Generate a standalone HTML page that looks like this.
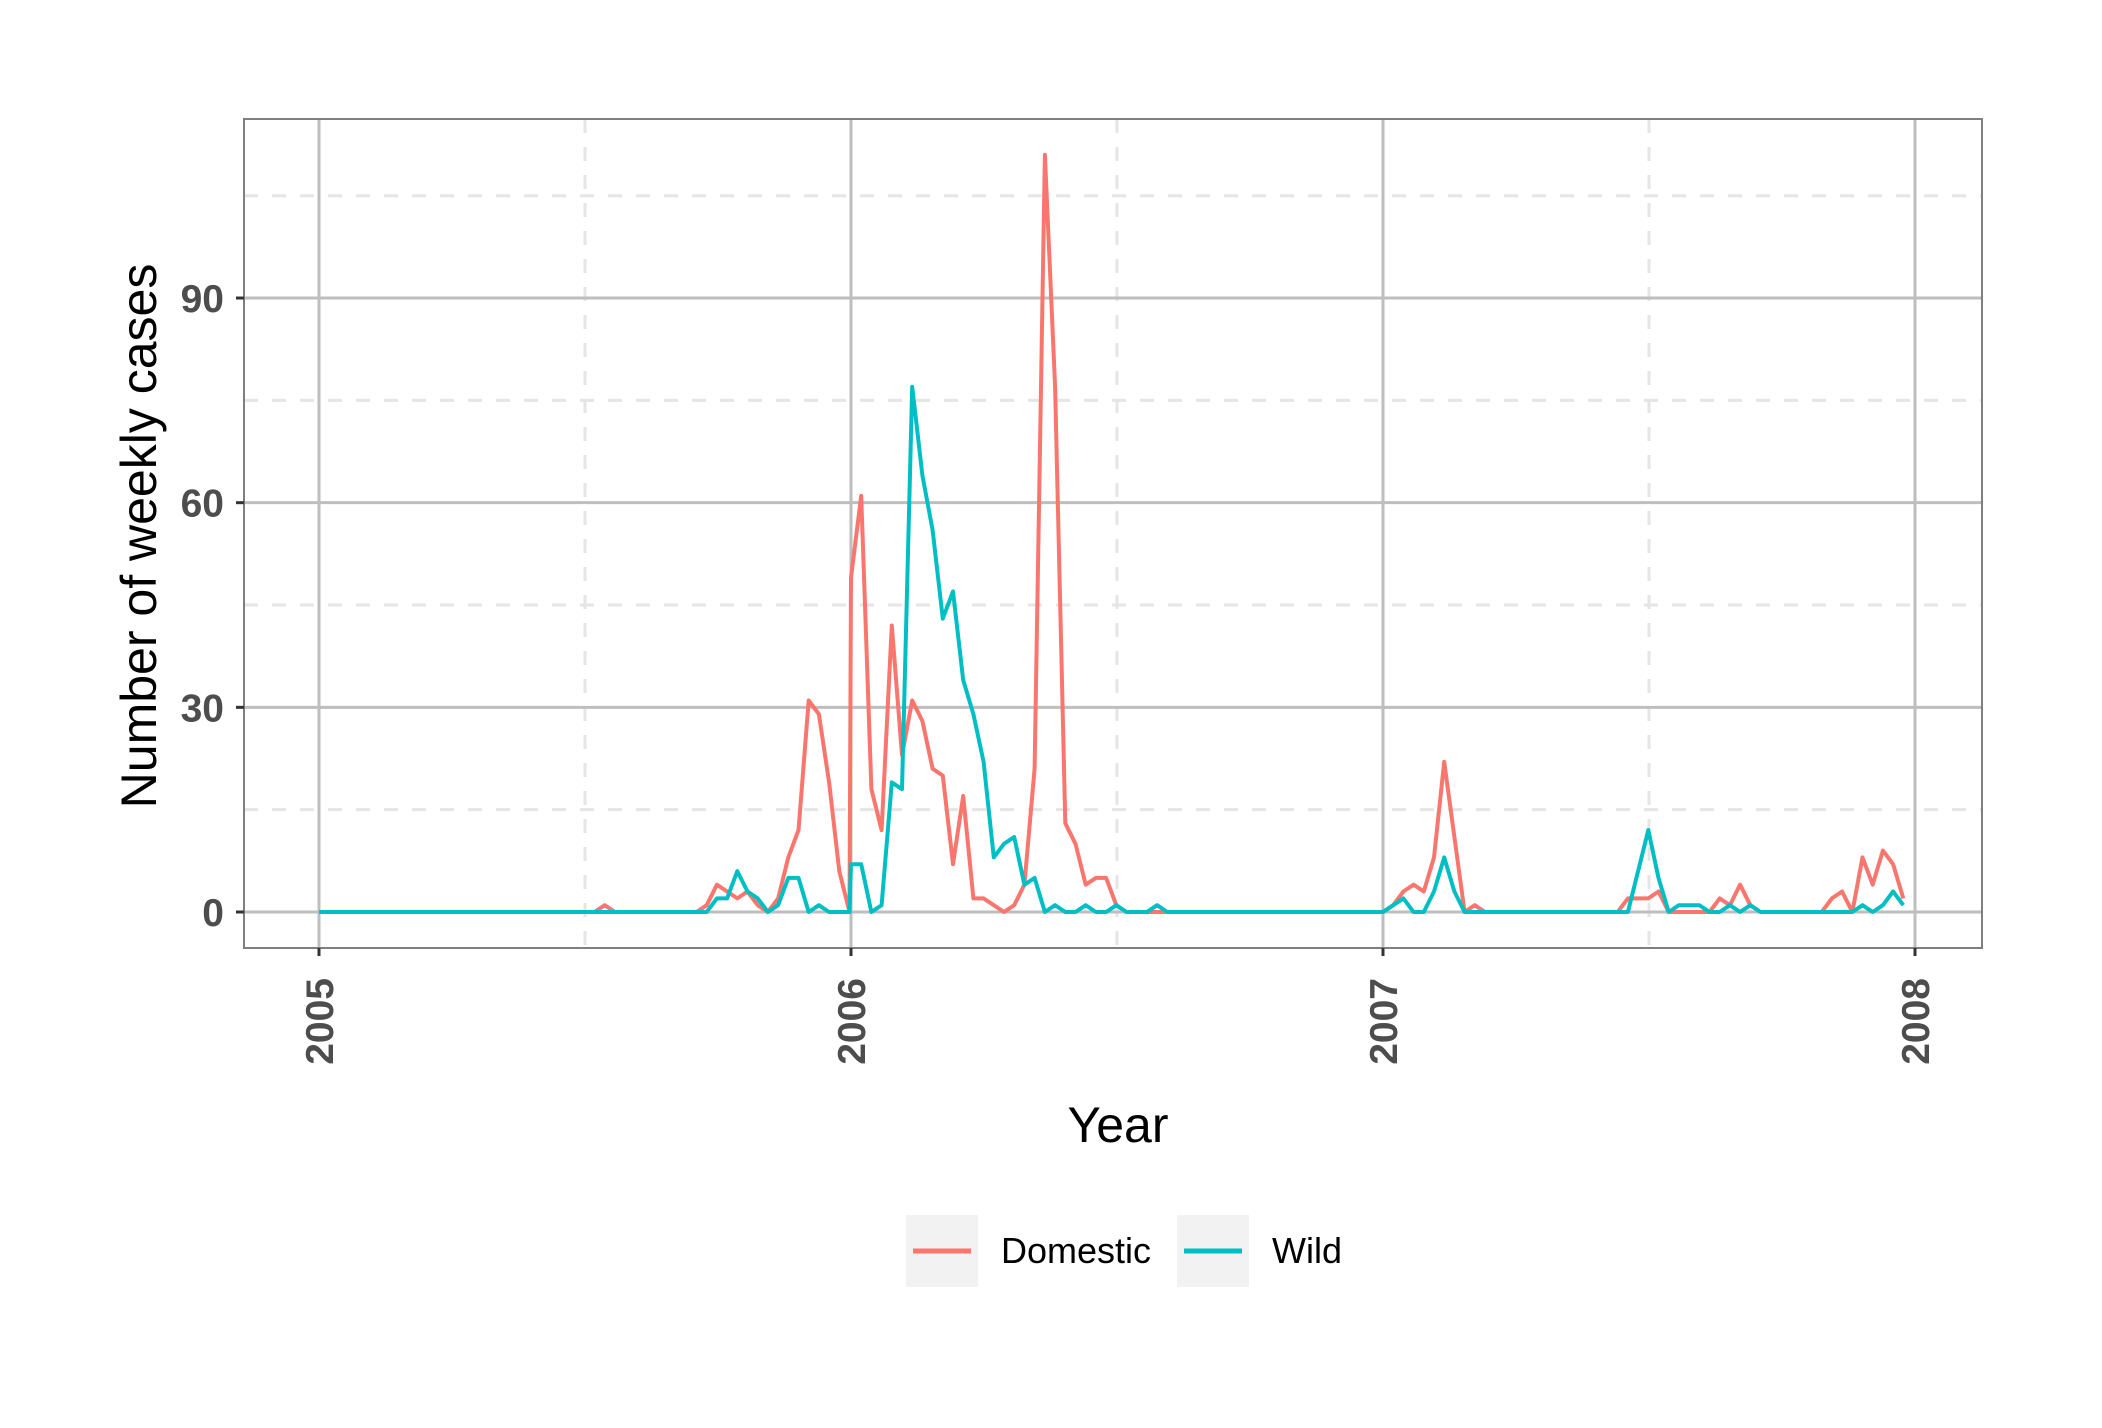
<!DOCTYPE html>
<html><head><meta charset="utf-8"><style>
html,body{margin:0;padding:0;background:#fff;}
svg{display:block;font-family:"Liberation Sans",sans-serif;}
</style></head><body>
<svg id="chart" width="2102" height="1428" viewBox="0 0 2102 1428">
<rect x="0" y="0" width="2102" height="1428" fill="#fff"/>
<g id="grid"></g>
<g id="series"></g>
<rect x="244" y="119" width="1738" height="829" fill="none" stroke="#7f7f7f" stroke-width="2"/>
<g id="axes"></g>
<text x="0" y="0" transform="translate(156,536) rotate(-90)" text-anchor="middle" font-size="50" fill="#000">Number of weekly cases</text>
<text x="1118" y="1142" text-anchor="middle" font-size="50" fill="#000">Year</text>
<g>
<g>
<rect x="906" y="1215" width="72" height="72" fill="#f2f2f2"/>
<line x1="913" y1="1251" x2="971" y2="1251" stroke="#F8766D" stroke-width="5"/>
<text x="1001" y="1263" font-size="36" fill="#000">Domestic</text>
</g>
<g>
<rect x="1177" y="1215" width="72" height="72" fill="#f2f2f2"/>
<line x1="1184" y1="1251" x2="1242" y2="1251" stroke="#00BFC4" stroke-width="5"/>
<text x="1272" y="1263" font-size="36" fill="#000">Wild</text>
</g>
</g>
</svg>
<script>
const years = [2005, 2006, 2007];
const domestic2005 = [0,0,0,0,0,0,0,0,0,0,0,0,0,0,0,0,0,0,0,0,0,0,0,0,0,0,0,0,1,0,0,0,0,0,0,0,0,0,1,4,3,2,3,1,0,2,8,12,31,29,19,6,0];
const domestic2006 = [49,61,18,12,42,23,31,28,21,20,7,17,2,2,1,0,1,4,21,111,77,13,10,4,5,5,1,0,0,0,0,0,0,0,0,0,0,0,0,0,0,0,0,0,0,0,0,0,0,0,0,0,0];
const domestic2007 = [0,1,3,4,3,8,22,11,0,1,0,0,0,0,0,0,0,0,0,0,0,0,0,0,2,2,2,3,0,0,0,0,0,2,1,4,1,0,0,0,0,0,0,0,2,3,0,8,4,9,7,2];
const wild2005 = [0,0,0,0,0,0,0,0,0,0,0,0,0,0,0,0,0,0,0,0,0,0,0,0,0,0,0,0,0,0,0,0,0,0,0,0,0,0,0,2,2,6,3,2,0,1,5,5,0,1,0,0,0];
const wild2006 = [7,7,0,1,19,18,77,64,56,43,47,34,29,22,8,10,11,4,5,0,1,0,0,1,0,0,1,0,0,0,1,0,0,0,0,0,0,0,0,0,0,0,0,0,0,0,0,0,0,0,0,0,0];
const wild2007 = [0,1,2,0,0,3,8,3,0,0,0,0,0,0,0,0,0,0,0,0,0,0,0,0,0,6,12,5,0,1,1,1,0,0,1,0,1,0,0,0,0,0,0,0,0,0,0,1,0,1,3,1];
const yMajorTicks = [0, 30, 60, 90];
const yMinorTicks = [15, 45, 75, 105];
const xMajorTicks = [2005, 2006, 2007, 2008];
const xMinorTicks = [2005.5, 2006.5, 2007.5];
const xTickLabels = ["2005", "2006", "2007", "2008"];

const NS = "http://www.w3.org/2000/svg";
const PL = 244, PR = 1982, PT = 119, PB = 948;
const X0 = 2005, X1 = 2008, XP0 = 319, XP1 = 1915;
function xs(v){ return XP0 + (v - X0) * (XP1 - XP0) / (X1 - X0); }
function ys(v){ return 912 - v * 6.822; }
function mk(tag, attrs, parent){ const e = document.createElementNS(NS, tag); for (const k in attrs) e.setAttribute(k, attrs[k]); parent.appendChild(e); return e; }

const grid = document.getElementById('grid');
yMinorTicks.forEach(v => {
  const l = mk('line', {x1:PL, x2:PR, y1:ys(v), y2:ys(v), stroke:'#e5e5e5', 'stroke-width':3, 'stroke-dasharray':'14,14'}, grid);
  
  
});
xMinorTicks.forEach(v => {
  const l = mk('line', {x1:xs(v), x2:xs(v), y1:PT, y2:PB, stroke:'#e5e5e5', 'stroke-width':3, 'stroke-dasharray':'14,14'}, grid);
  
  
});
yMajorTicks.forEach(v => {
  const l = mk('line', {x1:PL, x2:PR, y1:ys(v), y2:ys(v), stroke:'#bebebe', 'stroke-width':3}, grid);
  
  
});
xMajorTicks.forEach(v => {
  const l = mk('line', {x1:xs(v), x2:xs(v), y1:PT, y2:PB, stroke:'#bebebe', 'stroke-width':3}, grid);
  
  
});

function pts(arrs){
  const out = [];
  arrs.forEach((a, i) => a.forEach((v, w) => out.push([years[i] + w * 7 / 365, v])));
  return out;
}
const ser = document.getElementById('series');
[[ [domestic2005, domestic2006, domestic2007], '#F8766D', 'domestic-line' ],
 [ [wild2005, wild2006, wild2007], '#00BFC4', 'wild-line' ]].forEach(s => {
  const d = pts(s[0]).map((p, i) => (i ? 'L' : 'M') + xs(p[0]).toFixed(1) + ',' + ys(p[1]).toFixed(1)).join('');
  const p = mk('path', {d:d, fill:'none', stroke:s[1], 'stroke-width':4, 'stroke-linejoin':'round'}, ser);
  
  
});

const axes = document.getElementById('axes');
yMajorTicks.forEach(v => {
  const t = mk('line', {x1:PL-8, x2:PL, y1:ys(v), y2:ys(v), stroke:'#333', 'stroke-width':3}, axes);
  
  
  const tx = mk('text', {x:PL-20, y:ys(v)+14, 'text-anchor':'end', 'font-size':39, 'font-weight':'bold', fill:'#4d4d4d'}, axes);
  tx.textContent = String(v);
  
  
});
xMajorTicks.forEach((v, i) => {
  const t = mk('line', {x1:xs(v), x2:xs(v), y1:PB, y2:PB+8, stroke:'#333', 'stroke-width':3}, axes);
  
  
  const tx = mk('text', {x:0, y:0, transform:'translate(' + (xs(v)+14) + ',' + (PB+30) + ') rotate(-90)', 'text-anchor':'end', 'font-size':39, 'font-weight':'bold', fill:'#4d4d4d'}, axes);
  tx.textContent = xTickLabels[i];
  
  
});
</script>
</body></html>
